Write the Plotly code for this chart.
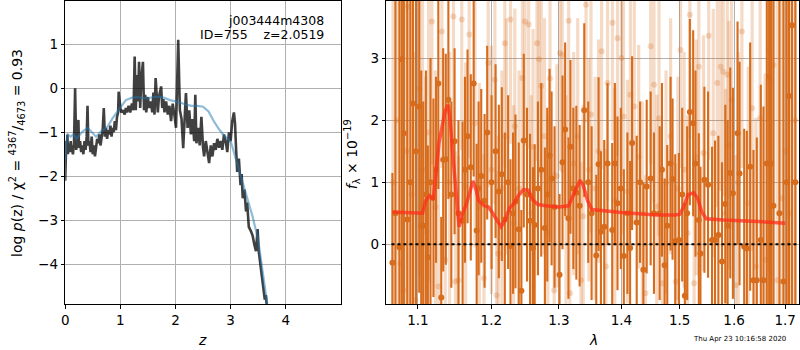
import math
import plotly.graph_objects as go

# ---------------- left panel: p(z) ----------------
z_pz = [0.00, 0.01, 0.02, 0.03, 0.04, 0.05, 0.06, 0.07, 0.08, 0.09, 0.10, 0.11, 0.12, 0.14, 0.16,
        0.18, 0.19, 0.20, 0.22, 0.24, 0.25, 0.27, 0.29, 0.31, 0.33, 0.35, 0.37, 0.39, 0.405, 0.42,
        0.44, 0.46, 0.48, 0.50, 0.52, 0.54, 0.56, 0.58, 0.60, 0.62, 0.64, 0.66, 0.68, 0.70, 0.72,
        0.74, 0.76, 0.78, 0.80, 0.82, 0.84, 0.86, 0.88, 0.90, 0.92, 0.94, 0.96, 0.97, 0.98, 1.00,
        1.02, 1.05, 1.08, 1.10, 1.12, 1.15, 1.18, 1.21, 1.24, 1.26, 1.28, 1.30, 1.32, 1.34, 1.36,
        1.38, 1.41, 1.43, 1.45, 1.47, 1.50, 1.52, 1.55, 1.58, 1.60, 1.62, 1.64, 1.66, 1.68, 1.70,
        1.74, 1.76, 1.78, 1.80, 1.83, 1.86, 1.89, 1.92, 1.95, 1.98, 2.01, 2.05, 2.08, 2.11, 2.14,
        2.17, 2.19, 2.22, 2.25, 2.28, 2.31, 2.34, 2.36, 2.38, 2.41, 2.44, 2.47, 2.50, 2.52, 2.55,
        2.58, 2.61, 2.64, 2.67, 2.70, 2.73, 2.76, 2.79, 2.82, 2.85, 2.88, 2.91, 2.94, 2.97, 3.00,
        3.03, 3.06, 3.08, 3.10, 3.12, 3.15, 3.18, 3.20, 3.22, 3.25, 3.28, 3.30, 3.33, 3.37, 3.40,
        3.43, 3.46, 3.49, 3.51, 3.55, 3.58, 3.62, 3.64, 3.66]
logp_pz = [-2.1, -1.6, -1.2, -1.45, -1.05, -1.5, -1.3, -1.45, -1.25, -1.4, -1.2, -1.45, -1.3, -1.5, -1.25,
           0.0, -1.2, -1.4, -1.1, -0.72, -1.35, -1.2, -1.45, -1.3, -1.5, -1.2, -1.4, -1.1, -0.4, -1.3,
           -1.2, -1.45, -1.1, -1.5, -1.3, -1.55, -1.35, -1.15, -1.25, -1.05, -1.3, -1.1, -0.95, -0.45, -1.1,
           -0.9, -1.15, -0.95, -1.05, -0.85, -1.1, -0.9, -1.0, -0.75, -0.95, -0.65, -0.55, -0.08, -0.3, -0.45,
           -0.55, -0.5, -0.6, -0.45, -0.55, -0.4, -0.55, -0.35, -0.5, 0.72, -0.5, 0.3, -0.3, 0.6, -0.45,
           0.2, 0.6, -0.5, -0.15, -0.55, -0.2, -0.45, -0.3, -0.55, -0.1, -0.6, 0.23, -0.35, -0.55, -0.2,
           0.04, -0.45, -0.25, -0.55, -0.3, -0.6, -0.4, -0.75, -0.35, -0.6, -0.9, 1.1, -0.5, -0.7, -1.36,
           -0.6, -0.11, -0.9, -0.5, -1.05, -0.7, -1.2, -0.15, -1.25, -0.9, -1.3, -0.65, -1.35, -1.55, -1.2,
           -1.45, -1.7, -1.3, -1.55, -1.25, -1.4, -1.15, -1.35, -1.2, -1.4, -1.05, -1.2, -1.45, -1.0, -1.2,
           -0.75, -0.55, -0.8, -1.4, -1.9, -1.6, -2.2, -1.95, -2.5, -2.3, -2.8, -2.6, -3.15, -3.25, -3.35,
           -3.55, -3.7, -3.2, -3.7, -4.1, -4.4, -4.8, -4.7, -5.0]

z_chi = [0.0, 0.02, 0.05, 0.1, 0.15, 0.2, 0.25, 0.32, 0.41, 0.48, 0.56, 0.65, 0.77, 0.86, 0.95, 1.0,
         1.1, 1.2, 1.3, 1.4, 1.5, 1.6, 1.7, 1.8, 1.9, 2.0, 2.1, 2.2, 2.3, 2.4, 2.5, 2.6, 2.7, 2.8,
         2.9, 3.0, 3.1, 3.2, 3.3, 3.4, 3.5, 3.6, 3.67]
logp_chi = [-1.65, -1.2, -1.05, -1.1, -1.05, -1.15, -1.08, -0.98, -0.9, -1.0, -1.1, -0.98, -0.87, -0.68, -0.53, -0.42,
            -0.27, -0.22, -0.2, -0.22, -0.23, -0.2, -0.19, -0.22, -0.27, -0.3, -0.33, -0.38, -0.4, -0.4, -0.42, -0.53,
            -0.76, -0.95, -1.1, -1.2, -1.63, -2.08, -2.54, -2.92, -3.45, -4.28, -4.95]

# ---------------- right panel: spectrum ----------------
lam_dark = [1.0672, 1.0710, 1.0761, 1.0792, 1.0818, 1.0862, 1.0901, 1.0935, 1.0974, 1.1017, 1.1043, 1.1069,
            1.1104, 1.1130, 1.1165, 1.1204, 1.1239, 1.1269, 1.1308, 1.1334, 1.1369, 1.1404, 1.1444, 1.1488,
            1.1541, 1.1598, 1.1630, 1.1666, 1.1711, 1.1751, 1.1793, 1.1820, 1.1857, 1.1904, 1.1941, 1.2003,
            1.2060, 1.2107, 1.2150, 1.2193, 1.2241, 1.2275, 1.2313, 1.2348, 1.2396, 1.2435, 1.2470, 1.2518,
            1.2563, 1.2607, 1.2632, 1.2681, 1.2731, 1.2786, 1.2822, 1.2857, 1.2888, 1.2933, 1.3010, 1.3056,
            1.3097, 1.3148, 1.3179, 1.3225, 1.3272, 1.3324, 1.3397, 1.3460, 1.3514, 1.3589, 1.3626, 1.3664,
            1.3718, 1.3772, 1.3848, 1.3892, 1.3935, 1.3990, 1.4040, 1.4100, 1.4145, 1.4178, 1.4256, 1.4313,
            1.4369, 1.4426, 1.4494, 1.4551, 1.4649, 1.4689, 1.4736, 1.4782, 1.4840, 1.4875, 1.4922, 1.4987,
            1.5046, 1.5093, 1.5135, 1.5183, 1.5243, 1.5285, 1.5345, 1.5375, 1.5447, 1.5514, 1.5588, 1.5643,
            1.5705, 1.5773, 1.5835, 1.5878, 1.5928, 1.5978, 1.6066, 1.6104, 1.6193, 1.6244, 1.6308, 1.6372,
            1.6437, 1.6515, 1.6567, 1.6633, 1.6679, 1.6718, 1.6764, 1.6884, 1.6964, 1.7030, 1.7077, 1.7138,
            1.7205]
flux_dark = [-0.3, 0.5, -0.05, 2.98, 1.79, 0.4, 1.0, 2.27, 1.5, 2.22, 0.3, 0.3,
             0.8, -0.21, 1.0, 0.75, 1.2, 2.59, -0.86, 1.36, 1.37, 2.33, 0.8, 1.66,
             0.5, 0.38, 1.2, 1.74, 1.24, 2.59, 0.22, 0.9, 1.1, 0.7, 1.8, 1.0,
             1.5, 0.85, 1.13, 0.4, 1.0, -0.03, 0.5, 0.69, 0.24, -0.75, 1.67, 0.8,
             0.38, -0.06, 0.31, 0.9, 1.2, 0.26, 0.8, 1.43, 1.06, 0.6, -0.49, 1.32,
             1.85, 0.42, 1.57, 0.9, 0.83, 0.62, 2.16, 1.0, 0.5, -0.18, 1.29, 0.2,
             0.28, 1.3, 0.23, 1.3, 0.66, 0.9, -0.19, 0.5, -0.06, 1.63, 0.35, 1.0,
             -0.41, 0.93, 1.06, 0.5, 0.5, 1.2, -0.34, 0.3, 1.3, 1.05, 0.05, 0.07,
             0.8, -0.83, 0.5, 2.13, 1.95, 1.3, 0.39, -0.15, 1.04, 0.96, 0.07, 0.07,
             0.15, -0.28, 0.65, 0.3, 1.15, 0.82, 1.79, 1.14, -0.04, -0.07, 1.25, -0.58,
             -0.58, 0.07, -0.58, 1.3, 2.7, 1.3, 0.62, 0.5, -0.6, 1.0, 2.39, 3.53,
             1.0]
err_dark = [1.45, 5.0, 5.0, 5.0, 4.5, 5.0, 5.0, 4.0, 4.0, 3.0, 2.5, 2.0,
            2.0, 1.8, 2.0, 1.6, 1.5, 1.7, 1.3, 1.8, 1.7, 1.6, 1.5, 1.5,
            1.5, 1.6, 1.5, 1.4, 1.5, 1.5, 1.4, 1.4, 1.4, 1.4, 1.4, 1.4,
            1.4, 1.4, 1.4, 1.4, 1.4, 1.4, 1.3, 1.4, 1.4, 1.3, 1.4, 1.4,
            1.4, 1.3, 1.3, 1.4, 1.4, 1.3, 1.4, 1.4, 1.4, 1.3, 1.3, 1.4,
            1.4, 1.3, 1.4, 1.3, 1.4, 1.3, 1.4, 1.3, 1.4, 1.3, 1.4, 1.3,
            1.4, 1.3, 1.4, 1.3, 1.4, 1.3, 1.4, 1.3, 1.4, 1.4, 1.4, 1.3,
            1.4, 1.4, 1.4, 1.3, 1.4, 1.4, 1.4, 1.3, 1.4, 1.3, 1.4, 1.4,
            1.4, 1.5, 1.4, 1.5, 1.5, 1.5, 1.4, 1.4, 1.5, 1.5, 1.5, 1.6,
            1.6, 1.6, 1.6, 1.7, 1.7, 1.7, 1.8, 1.8, 1.9, 1.9, 2.0, 2.1,
            2.3, 2.5, 2.8, 3.5, 4.0, 4.5, 5.0, 5.0, 5.0, 5.0, 5.0, 5.0,
            5.0]

lam_light = [1.0680, 1.0730, 1.0772, 1.0814, 1.0850, 1.0871, 1.0920, 1.0966, 1.1020, 1.1060, 1.1100, 1.1140,
             1.1183, 1.1230, 1.1270, 1.1316, 1.1361, 1.1420, 1.1473, 1.1500, 1.1541, 1.1586, 1.1640, 1.1689,
             1.1769, 1.1830, 1.1895, 1.1955, 1.2000, 1.2050, 1.2075, 1.2098, 1.2150, 1.2193, 1.2215, 1.2275,
             1.2320, 1.2338, 1.2400, 1.2450, 1.2488, 1.2542, 1.2580, 1.2608, 1.2667, 1.2697, 1.2731, 1.2780,
             1.2830, 1.2864, 1.2928, 1.2970, 1.3016, 1.3051, 1.3110, 1.3152, 1.3170, 1.3230, 1.3293, 1.3345,
             1.3380, 1.3425, 1.3470, 1.3504, 1.3570, 1.3625, 1.3675, 1.3745, 1.3772, 1.3852, 1.3890, 1.3935,
             1.4000, 1.4034, 1.4100, 1.4150, 1.4215, 1.4290, 1.4350, 1.4403, 1.4494, 1.4551, 1.4600, 1.4638,
             1.4695, 1.4760, 1.4840, 1.4930, 1.4970, 1.5017, 1.5080, 1.5140, 1.5183, 1.5260, 1.5300, 1.5345,
             1.5430, 1.5526, 1.5610, 1.5686, 1.5748, 1.5797, 1.5840, 1.5872, 1.5900, 1.5953, 1.6030, 1.6080,
             1.6149, 1.6270, 1.6347, 1.6420, 1.6502, 1.6600, 1.6672, 1.6705, 1.6764, 1.6840, 1.6930, 1.7000,
             1.7100, 1.7200]
flux_light = [1.0, 2.0, -0.31, -0.74, 1.5, 3.83, 0.8, -0.9, 2.5, 1.2, 0.2, 1.8,
              3.59, 0.6, -0.68, 3.43, -0.25, 1.0, 3.67, -0.6, -0.58, 3.62, 0.93, 3.38,
              1.95, 0.6, -0.55, 2.92, 1.2, 2.65, -0.82, -0.15, 0.9, 3.24, 1.74, 3.62,
              0.34, 1.9, 0.9, 2.68, 3.59, 3.54, 0.5, 1.57, 3.24, 2.98, 2.55, 1.74,
              0.18, 2.67, -0.74, 1.1, 3.08, 3.05, 0.6, 3.6, -0.79, 1.3, 1.74, -0.58,
              0.45, 3.86, 1.2, 2.09, 0.9, 1.5, 3.11, -0.36, 2.6, 3.57, 0.71, 3.32,
              3.0, 2.06, 0.85, 2.41, 2.22, 1.41, 0.5, -0.79, 3.19, 2.57, 0.61, 2.03,
              -0.63, 1.0, 1.74, -0.6, 0.9, 3.13, 1.2, 0.18, 3.7, -0.63, 1.4, 2.86,
              1.47, 3.36, 1.79, 2.6, 2.86, 2.78, 0.5, 2.73, 1.6, 2.33, -0.66, 1.0,
              3.43, 0.66, 2.19, -0.36, 2.03, -0.25, 3.14, 2.65, 2.89, -0.58, 0.74, 1.5,
              0.5, 2.0]
err_light = [5.0, 5.0, 5.0, 5.0, 5.0, 5.0, 4.0, 4.0, 3.0, 2.8, 2.5, 2.4,
             2.3, 2.2, 2.2, 2.2, 2.2, 2.1, 2.1, 2.1, 2.0, 2.1, 2.0, 2.0,
             2.0, 2.0, 2.0, 2.0, 2.0, 2.0, 2.0, 1.9, 1.9, 2.0, 1.9, 2.0,
             1.9, 1.9, 1.9, 1.9, 2.0, 2.0, 1.9, 1.9, 1.9, 1.9, 1.9, 1.9,
             1.9, 1.9, 1.9, 1.8, 1.9, 1.9, 1.8, 1.9, 1.9, 1.8, 1.9, 1.9,
             1.8, 1.9, 1.8, 1.9, 1.8, 1.8, 1.9, 1.9, 1.9, 1.9, 1.8, 1.9,
             1.9, 1.9, 1.8, 1.9, 1.9, 1.8, 1.8, 1.9, 1.9, 1.9, 1.8, 1.9,
             1.9, 1.8, 1.9, 1.9, 1.8, 1.9, 1.9, 1.9, 2.0, 2.0, 1.9, 2.0,
             1.9, 2.0, 2.0, 2.0, 2.0, 2.0, 2.0, 2.0, 2.0, 2.1, 2.1, 2.1,
             2.2, 2.2, 2.3, 2.4, 2.6, 3.0, 3.5, 4.0, 4.5, 5.0, 5.0, 5.0,
             5.0, 5.0]

lam_model = [1.0672, 1.080, 1.100, 1.106, 1.110, 1.115, 1.120, 1.124, 1.128, 1.132, 1.136, 1.140,
             1.143, 1.146, 1.150, 1.155, 1.160, 1.165, 1.170, 1.174, 1.178, 1.182, 1.190, 1.196,
             1.202, 1.208, 1.214, 1.220, 1.226, 1.232, 1.240, 1.247, 1.254, 1.260, 1.268, 1.280,
             1.300, 1.315, 1.322, 1.328, 1.333, 1.338, 1.345, 1.352, 1.370, 1.400, 1.430, 1.460,
             1.490, 1.500, 1.507, 1.515, 1.525, 1.532, 1.540, 1.548, 1.580, 1.620, 1.660, 1.700]
flux_model = [0.52, 0.51, 0.50, 0.50, 0.70, 0.78, 0.72, 1.2, 1.65, 1.9, 2.15, 2.25,
              2.0, 1.5, 0.95, 0.28, 0.5, 0.65, 0.85, 1.02, 0.9, 0.7, 0.62, 0.6,
              0.5, 0.38, 0.28, 0.4, 0.58, 0.65, 0.8, 0.88, 0.87, 0.72, 0.64, 0.62,
              0.60, 0.62, 0.78, 0.95, 1.03, 0.95, 0.7, 0.56, 0.54, 0.51, 0.49, 0.47,
              0.47, 0.48, 0.6, 0.8, 0.83, 0.75, 0.52, 0.41, 0.39, 0.38, 0.36, 0.34]

zero_lam = [1.066, 1.728]
zero_flux = [0.0, 0.0]

z_ticks = [0, 1, 2, 3, 4]
logp_ticks = [-4, -3, -2, -1, 0, 1]
lam_ticks = [1.1, 1.2, 1.3, 1.4, 1.5, 1.6, 1.7]
flux_ticks = [0, 1, 2, 3]

ORANGE = "rgb(214,108,28)"
ORANGE_LIGHT = "rgba(214,108,28,0.25)"
FONT = "DejaVu Sans"

fig = go.Figure()

fig.add_trace(go.Scatter(x=z_pz, y=logp_pz, mode="lines",
                         line=dict(color="rgba(0,0,0,0.75)", width=2.6),
                         xaxis="x", yaxis="y"))
fig.add_trace(go.Scatter(x=z_chi, y=logp_chi, mode="lines",
                         line=dict(color="rgba(31,119,180,0.5)", width=2.2),
                         xaxis="x", yaxis="y"))

fig.add_trace(go.Scatter(x=lam_light, y=flux_light, mode="markers",
                         marker=dict(color=ORANGE_LIGHT, size=6, line=dict(width=0)),
                         error_y=dict(type="data", array=err_light, color=ORANGE_LIGHT,
                                      thickness=3.2, width=0),
                         xaxis="x2", yaxis="y2"))
fig.add_trace(go.Scatter(x=lam_dark, y=flux_dark, mode="markers",
                         marker=dict(color=ORANGE, size=6, line=dict(width=0)),
                         error_y=dict(type="data", array=err_dark, color=ORANGE,
                                      thickness=2.1, width=0),
                         xaxis="x2", yaxis="y2"))
fig.add_trace(go.Scatter(x=lam_model, y=flux_model, mode="lines",
                         line=dict(color="rgba(255,45,25,0.75)", width=3.5),
                         xaxis="x2", yaxis="y2"))
fig.add_trace(go.Scatter(x=zero_lam, y=zero_flux, mode="lines",
                         line=dict(color="black", width=2, dash="dot"),
                         xaxis="x2", yaxis="y2"))

ydom = [1 - 304 / 350, 1 - 1 / 350]
axis_common = dict(showgrid=True, gridcolor="#b0b0b0", gridwidth=0.8,
                   showline=True, linecolor="black", linewidth=1, mirror=True,
                   ticks="outside", ticklen=3.5, tickwidth=0.8, tickcolor="black",
                   tickfont=dict(family=FONT, size=13.5, color="black"),
                   zeroline=False, layer="above traces")

fig.update_layout(
    width=800, height=350,
    margin=dict(l=0, r=0, t=0, b=0),
    paper_bgcolor="white", plot_bgcolor="white",
    showlegend=False,
    font=dict(family=FONT, color="black"),
    xaxis=dict(domain=[61.5 / 800, 338.3 / 800], range=[0, 4.995], tickvals=z_ticks,
               anchor="y", **axis_common),
    yaxis=dict(domain=ydom, range=[-4.9, 1.98], tickvals=logp_ticks,
               anchor="x", **axis_common),
    xaxis2=dict(domain=[384.3 / 800, 799 / 800], type="log",
                range=[math.log10(1.0596), math.log10(1.728)],
                tickvals=lam_ticks, ticktext=[f"{v:.1f}" for v in lam_ticks],
                anchor="y2", **axis_common),
    yaxis2=dict(domain=ydom, range=[-0.963, 3.92], tickvals=flux_ticks,
                anchor="x2", **axis_common),
)

ann = [
    dict(text="j003444m4308", x=323.5 / 800, y=1 - 20 / 350, xanchor="right", yanchor="middle",
         font=dict(size=12.5)),
    dict(text="ID=755    z=2.0519", x=323.5 / 800, y=1 - 34 / 350, xanchor="right", yanchor="middle",
         font=dict(size=12.5)),
    dict(text="log <i>p</i>(z) / χ<sup>2</sup> = <sup>4367</sup>/<sub>4673</sub> = 0.93",
         x=13 / 800, y=1 - 153 / 350, textangle=-90, xanchor="center", yanchor="middle",
         font=dict(size=14)),
    dict(text="<i>z</i>", x=199 / 800, y=1 - 340 / 350, xanchor="center", yanchor="middle",
         font=dict(size=14)),
    dict(text="<i>λ</i>", x=592 / 800, y=1 - 340 / 350, xanchor="center", yanchor="middle",
         font=dict(size=14)),
    dict(text="<i>f</i><sub>λ</sub> × 10<sup>−19</sup>", x=350 / 800, y=1 - 154 / 350,
         textangle=-90, xanchor="center", yanchor="middle", font=dict(size=14)),
    dict(text="Thu Apr 23 10:16:58 2020", x=787.7 / 800, y=1 - 338.5 / 350,
         xanchor="right", yanchor="middle", font=dict(size=7)),
]
for a in ann:
    a.update(xref="paper", yref="paper", showarrow=False)
    a["font"] = dict(family=FONT, color="black", **a["font"])
fig.update_layout(annotations=ann)

fig.write_html("out.html", config={"displayModeBar": False},
               post_script="document.body.style.margin='0';document.body.style.overflow='hidden';")
